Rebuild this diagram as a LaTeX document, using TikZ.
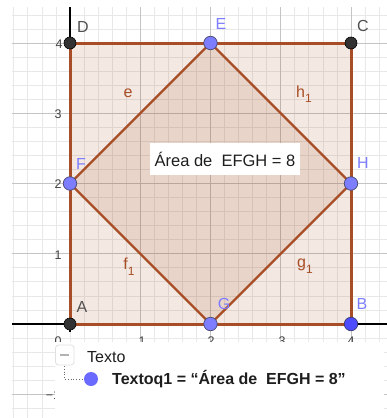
\documentclass[tikz,border=0pt]{standalone}
\usepackage{fontspec}
\setmainfont{Liberation Sans}
\definecolor{brn}{RGB}{168,78,38}
\definecolor{gminor}{RGB}{232,232,232}
\definecolor{gmajor}{RGB}{196,196,196}
\definecolor{ptdark}{RGB}{50,50,50}
\definecolor{ptblue}{RGB}{125,125,255}
\definecolor{ptbluedk}{RGB}{77,77,255}
\definecolor{lblblue}{RGB}{125,125,255}
\definecolor{lbldark}{RGB}{80,80,80}
\definecolor{txt}{RGB}{30,30,30}
\begin{document}
\begin{tikzpicture}[x=1pt,y=-1pt,
  sqedge/.style={draw=brn, line width=3pt, line join=round, line cap=round},
  diag/.style={draw=brn, line width=2.4pt, line join=round},
  darkpt/.style={circle, fill=ptdark, draw=black, line width=0.6pt, minimum size=12pt, inner sep=0pt},
  bluept/.style={circle, fill=ptblue, draw=ptdark!70!ptblue, line width=0.7pt, minimum size=13.5pt, inner sep=0pt},
  bluedkpt/.style={circle, fill=ptbluedk, draw=ptdark!70!ptbluedk, line width=0.7pt, minimum size=13.5pt, inner sep=0pt},
  ptlbl/.style={inner sep=0pt, font=\fontsize{16}{16}\selectfont},
  seglbl/.style={inner sep=0pt, text=brn, font=\fontsize{16}{16}\selectfont},
  ticklbl/.style={inner sep=0pt, text=lbldark!80!black, font=\fontsize{12.5}{12.5}\selectfont},
  legtxt/.style={inner sep=0pt, anchor=west, text=txt, font=\fontsize{16}{16}\selectfont}]
\useasboundingbox (0,0) rectangle (387,418);
\fill[white] (0,0) rectangle (387,418);
% grid
\begin{scope}
\clip (12,7) rectangle (387,418);
\foreach \k in {-4,...,22} {\draw[gminor, line width=0.8pt] ({70+14.05*\k},7) -- ({70+14.05*\k},418);}
\foreach \k in {-7,...,23} {\draw[gminor, line width=0.8pt] (12,{324-14.05*\k}) -- (387,{324-14.05*\k});}
\foreach \m in {1,...,4} {\draw[gmajor, line width=0.9pt] ({70+70.25*\m},7) -- ({70+70.25*\m},418);}
\foreach \m in {-1,1,2,3,4} {\draw[gmajor, line width=0.9pt] (12,{324-70.25*\m}) -- (387,{324-70.25*\m});}
\end{scope}
% points
\coordinate (A) at (70,324);
\coordinate (B) at (351,324);
\coordinate (C) at (351,43);
\coordinate (D) at (70,43);
\coordinate (E) at (210.5,43);
\coordinate (F) at (70,183.5);
\coordinate (G) at (210.5,324);
\coordinate (H) at (351,183.5);
% fills
\fill[brn, opacity=0.13] (A) -- (B) -- (C) -- (D) -- cycle;
\fill[brn, opacity=0.13] (E) -- (F) -- (G) -- (H) -- cycle;
% axes
\draw[black, line width=1.2pt] (12,324) -- (387,324);
\draw[black, line width=1.2pt] (70,7) -- (70,332);
% tick labels
\node[ticklbl] (t4) at (59,44) {4};
\node[ticklbl] (t3) at (58,114) {3};
\node[ticklbl] (t2) at (58,184) {2};
\node[ticklbl] (t1) at (58,255) {1};
\node[ticklbl] (tm1) at (53,395) {−1};
\node[ticklbl] (x0) at (58,341) {0};
\node[ticklbl] (x1) at (142,341) {1};
\node[ticklbl] (x2) at (211,341) {2};
\node[ticklbl] (x3) at (282,341) {3};
\node[ticklbl] (x4) at (351,341) {4};
% edges
\draw[sqedge] (A) -- (B) -- (C) -- (D) -- cycle;
\draw[diag] (E) -- (F) -- (G) -- (H) -- cycle;
% point markers
\node[darkpt] (pA) at (A) {};
\node[darkpt] (pC) at (C) {};
\node[darkpt] (pD) at (D) {};
\node[bluedkpt] (pB) at (B) {};
\node[bluept] (pE) at (E) {};
\node[bluept] (pF) at (F) {};
\node[bluept] (pG) at (G) {};
\node[bluept] (pH) at (H) {};
% point labels
\node[ptlbl, text=lbldark] (lD) at (83,27) {D};
\node[ptlbl, text=lbldark] (lC) at (363,26) {C};
\node[ptlbl, text=lbldark] (lA) at (82,307) {A};
\node[ptlbl, text=lblblue] (lE) at (221,24) {E};
\node[ptlbl, text=lblblue] (lF) at (81,164) {F};
\node[ptlbl, text=lblblue] (lH) at (363,163) {H};
\node[ptlbl, text=lblblue] (lG) at (224,304) {G};
\node[ptlbl, text=lblblue] (lB) at (362,304) {B};
% segment labels
\node[seglbl] (le) at (128,93) {e};
\node[seglbl] (lh) at (304,94) {h\raisebox{-0.35em}{\fontsize{12}{12}\selectfont 1}};
\node[seglbl] (lf) at (129,267) {f\raisebox{-0.35em}{\fontsize{12}{12}\selectfont 1}};
\node[seglbl] (lg) at (305,266) {g\raisebox{-0.35em}{\fontsize{12}{12}\selectfont 1}};
% text box
\node[fill=white, inner sep=0pt, minimum width=150pt, minimum height=32pt, text=txt, font=\fontsize{16.5}{18}\selectfont] (area) at (225,159) {Área de\ \ EFGH = 8};
% legend panel
\fill[white] (55,342) rectangle (384,418);
\draw[rounded corners=3pt, draw=black!12, fill=white, line width=0.8pt] (55.5,345) rectangle (74,365);
\draw[black!30, line width=1.3pt] (60,355) -- (69,355);
\node[legtxt] (leg1) at (87,357) {Texto};
\node[circle, fill=ptblue!85!blue, inner sep=0pt, minimum size=14pt] (legpt) at (91,379) {};
\coordinate (dtop) at (64,366);
\coordinate (dcorner) at (64,379);
\draw[black!60, dotted, line width=0.8pt] (dtop) -- (dcorner) -- (legpt.west);
\node[legtxt, font=\bfseries\fontsize{16}{16}\selectfont] (leg2) at (112,379) {Textoq1 = “Área de\ \ EFGH = 8”};
\end{tikzpicture}
\end{document}
